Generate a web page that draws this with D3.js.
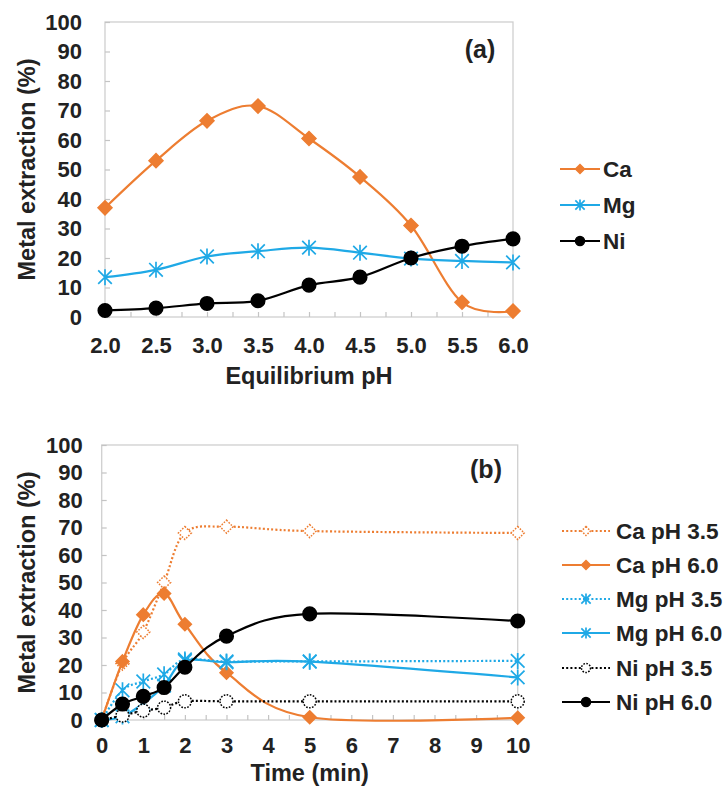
<!DOCTYPE html>
<html>
<head>
<meta charset="utf-8">
<script src="https://cdn.jsdelivr.net/npm/d3@7/dist/d3.min.js"></script>
<style>
  body { margin: 0; background: #fff; }
  text { font-family: "Liberation Sans", Arial, sans-serif; font-weight: bold; fill: #222; }
</style>
</head>
<body>
<div id="chart"></div>
<script>
// ---- panel (a): extraction vs equilibrium pH
var phValues = [2.0, 2.5, 3.0, 3.5, 4.0, 4.5, 5.0, 5.5, 6.0];
var caByPh = [37, 53, 66.5, 71.5, 60.5, 47.5, 31, 5, 2];
var mgByPh = [13.5, 16, 20.5, 22.3, 23.5, 21.8, 19.8, 19, 18.5];
var niByPh = [2.2, 3, 4.6, 5.5, 10.8, 13.5, 20, 24, 26.5];
var phTicks = [2.0, 2.5, 3.0, 3.5, 4.0, 4.5, 5.0, 5.5, 6.0];

// ---- panel (b): extraction vs time
var timeValues = [0, 0.5, 1, 1.5, 2, 3, 5, 10];
var caPh35 = [0, 20.5, 32, 50, 68, 70.3, 68.7, 68];
var caPh60 = [0, 21.3, 38.3, 46, 34.8, 17.2, 1, 0.8];
var mgPh35 = [0, 10.8, 14, 16.6, 22, 21.3, 21.3, 21.5];
var mgPh60 = [0, 1.3, 6, 12.5, 21.5, 21, 21.2, 15.5];
var niPh35 = [0, 1.6, 3.4, 4.5, 6.8, 6.8, 6.8, 6.8];
var niPh60 = [0, 5.8, 8.6, 11.8, 19.2, 30.5, 38.6, 36];
var timeTicks = [0, 1, 2, 3, 4, 5, 6, 7, 8, 9, 10];

var yTicks = [0, 10, 20, 30, 40, 50, 60, 70, 80, 90, 100];

var orange = "#ED7D31", blue = "#1FA9E6", black = "#000";
var dotted = "2,2.2";

var svg = d3.select("#chart").append("svg")
  .attr("width", 726).attr("height", 787);
svg.append("rect").attr("width", 726).attr("height", 787).attr("fill", "#fff");

function marker(g, type, x, y, s, color, open, dash) {
  var m;
  if (type === "diamond") {
    m = g.append("path").attr("d", "M0," + (-s) + "L" + s + ",0L0," + s + "L" + (-s) + ",0Z");
  } else if (type === "circle") {
    m = g.append("circle").attr("r", s);
  } else {
    var k = s * 0.85;
    m = g.append("path")
      .attr("d", "M" + (-k) + "," + (-k) + "L" + k + "," + k + "M" + (-k) + "," + k + "L" + k + "," + (-k) + "M0," + (-s) + "L0," + s)
      .attr("fill", "none");
  }
  m.attr("transform", "translate(" + x + "," + y + ")")
    .attr("stroke", color)
    .attr("stroke-width", type === "star" ? 1.7 : 1.5);
  if (type !== "star") m.attr("fill", open ? "#fff" : color);
  if (open && dash) m.attr("stroke-dasharray", "1.6,1.4");
}

function drawPanel(p) {
  var x = d3.scaleLinear().domain(p.xDomain).range([p.left, p.right]);
  var y = d3.scaleLinear().domain([0, 100]).range([p.bottom, p.top]);
  var g = svg.append("g");

  // plot frame
  g.append("rect")
    .attr("x", p.left).attr("y", p.top)
    .attr("width", p.right - p.left).attr("height", p.bottom - p.top)
    .attr("fill", "none").attr("stroke", "#cfcfcf").attr("stroke-width", 1.3);

  // inner tick marks
  var yTickAxis = g.append("g").attr("transform", "translate(" + p.left + ",0)")
    .call(d3.axisLeft(y).tickValues(yTicks).tickSizeInner(-5).tickSizeOuter(0).tickFormat(""));
  var xTickAxis = g.append("g").attr("transform", "translate(0," + p.bottom + ")")
    .call(d3.axisBottom(x).tickValues(p.minorTicks).tickSizeInner(-5).tickSizeOuter(0).tickFormat(""));
  [yTickAxis, xTickAxis].forEach(function (a) {
    a.select(".domain").remove();
    a.selectAll("line").attr("stroke", "#c4c4c4").attr("stroke-width", 1.2);
  });

  // labels
  var yLab = g.append("g").attr("transform", "translate(" + p.left + ",0)")
    .call(d3.axisLeft(y).tickValues(yTicks).tickSize(0).tickPadding(p.yPad));
  var xLab = g.append("g").attr("transform", "translate(0," + p.bottom + ")")
    .call(d3.axisBottom(x).tickValues(p.xTicks).tickSize(0).tickPadding(p.xPad).tickFormat(p.xFormat));
  [yLab, xLab].forEach(function (a) {
    a.select(".domain").remove();
    a.selectAll("text").attr("font-size", 22).attr("font-family", null).style("fill", "#222");
  });

  g.append("text")
    .attr("transform", "translate(" + p.yTitleX + "," + (p.top + p.bottom) / 2 + ") rotate(-90)")
    .attr("text-anchor", "middle").attr("dy", "0.35em").attr("font-size", 23.5)
    .text("Metal extraction (%)");
  g.append("text")
    .attr("x", (p.left + p.right) / 2).attr("y", p.xTitleY)
    .attr("text-anchor", "middle").attr("dy", "0.35em").attr("font-size", 23.5)
    .text(p.xTitle);
  g.append("text")
    .attr("x", p.tagX).attr("y", p.tagY)
    .attr("text-anchor", "middle").attr("dy", "0.35em").attr("font-size", 25)
    .text(p.tag);

  var line = d3.line()
    .x(function (d) { return x(d[0]); })
    .y(function (d) { return y(d[1]); })
    .curve(d3.curveCardinal.tension(0));

  p.series.forEach(function (s) {
    var pts = p.xValues.map(function (v, i) { return [v, s.values[i]]; });
    var sg = g.append("g");
    sg.append("path").datum(pts).attr("d", line)
      .attr("fill", "none").attr("stroke", s.color).attr("stroke-width", 2.2)
      .attr("stroke-dasharray", s.dash ? dotted : null);
    pts.forEach(function (d) {
      marker(sg, s.marker, x(d[0]), y(d[1]), s.size, s.color, s.open, s.dash);
    });
  });

  // legend
  p.series.forEach(function (s, i) {
    var ly = p.legY[i];
    var lg = g.append("g");
    lg.append("line")
      .attr("x1", p.legX1).attr("x2", p.legX2).attr("y1", ly).attr("y2", ly)
      .attr("stroke", s.color).attr("stroke-width", 2.2)
      .attr("stroke-dasharray", s.dash ? dotted : null);
    marker(lg, s.marker, (p.legX1 + p.legX2) / 2, ly, s.legSize, s.color, s.open, s.dash);
    lg.append("text").attr("x", p.legText).attr("y", ly).attr("dy", "0.36em")
      .attr("font-size", 22.5).text(s.name);
  });
}

drawPanel({
  xDomain: [2, 6], left: 105, right: 513, top: 22, bottom: 317,
  xValues: phValues, xTicks: phTicks, xFormat: d3.format(".1f"),
  minorTicks: d3.range(2, 6.01, 0.25),
  yPad: 23, xPad: 20, yTitleX: 27, xTitleY: 376, xTitle: "Equilibrium pH",
  tag: "(a)", tagX: 480, tagY: 49,
  legX1: 560, legX2: 600, legText: 603, legY: [169, 205, 241],
  series: [
    { name: "Ca", values: caByPh, color: orange, marker: "diamond", size: 7, legSize: 4.5 },
    { name: "Mg", values: mgByPh, color: blue, marker: "star", size: 8, legSize: 5.5 },
    { name: "Ni", values: niByPh, color: black, marker: "circle", size: 6.8, legSize: 4.5 }
  ]
});

drawPanel({
  xDomain: [0, 10], left: 101.7, right: 517.7, top: 445, bottom: 720,
  xValues: timeValues, xTicks: timeTicks, xFormat: d3.format("d"),
  minorTicks: d3.range(0, 10.01, 0.5),
  yPad: 19, xPad: 17.5, yTitleX: 27, xTitleY: 773, xTitle: "Time (min)",
  tag: "(b)", tagX: 486, tagY: 469,
  legX1: 562, legX2: 610, legText: 616, legY: [531, 565, 599, 633, 668, 702],
  series: [
    { name: "Ca pH 3.5", values: caPh35, color: orange, marker: "diamond", size: 6.5, legSize: 4.5, open: true, dash: true },
    { name: "Ca pH 6.0", values: caPh60, color: orange, marker: "diamond", size: 6.5, legSize: 4.5 },
    { name: "Mg pH 3.5", values: mgPh35, color: blue, marker: "star", size: 8, legSize: 5.5, dash: true },
    { name: "Mg pH 6.0", values: mgPh60, color: blue, marker: "star", size: 8, legSize: 5.5 },
    { name: "Ni pH 3.5", values: niPh35, color: black, marker: "circle", size: 6.5, legSize: 4.5, open: true, dash: true },
    { name: "Ni pH 6.0", values: niPh60, color: black, marker: "circle", size: 6.8, legSize: 4.5 }
  ]
});
</script>
</body>
</html>
